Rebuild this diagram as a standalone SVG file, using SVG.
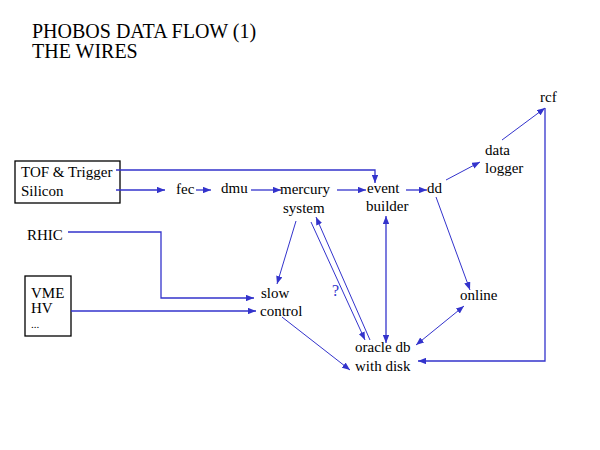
<svg xmlns="http://www.w3.org/2000/svg" width="600" height="450" viewBox="0 0 600 450" font-family="Liberation Serif, Times New Roman, serif">
<style>
text{font-size:15px;fill:#000}
.t{font-size:20px}
.c path,.c line,.c polyline{stroke:#3333cc;fill:none;stroke-width:1.3}
.box{fill:none;stroke:#000;stroke-width:1.3}
</style>
<defs>
<marker id="a" viewBox="0 0 10 8" refX="10" refY="4" markerWidth="8" markerHeight="6.5" markerUnits="userSpaceOnUse" orient="auto-start-reverse"><path d="M0,0L10,4L0,8z" fill="#3333cc"/></marker>
</defs>
<rect width="600" height="450" fill="#fff"/>
<g id="title">
<text class="t" x="32" y="38">PHOBOS DATA FLOW (1)</text>
<text class="t" x="32" y="58">THE WIRES</text>
</g>
<g id="tof"><rect class="box" x="15" y="161" width="105" height="42"/><text x="21" y="177">TOF &amp; Trigger</text><text x="21" y="196">Silicon</text></g>
<g id="fec"><text x="176" y="194">fec</text></g>
<g id="dmu"><text x="221" y="193">dmu</text></g>
<g id="mercury"><text x="280" y="194">mercury</text><text x="283" y="213">system</text></g>
<g id="event"><text x="367" y="193">event</text><text x="366" y="211">builder</text></g>
<g id="dd"><text x="427" y="193">dd</text></g>
<g id="logger"><text x="485" y="155">data</text><text x="485" y="173">logger</text></g>
<g id="rcf"><text x="540" y="102">rcf</text></g>
<g id="rhic"><text x="27" y="240">RHIC</text></g>
<g id="vme"><rect class="box" x="25" y="276" width="46" height="60"/><text x="31" y="298">VME</text><text x="31" y="313">HV</text><text x="31" y="328" style="font-size:11px">...</text></g>
<g id="slow"><text x="261" y="298">slow</text><text x="260" y="316">control</text></g>
<g id="online"><text x="460" y="300">online</text></g>
<g id="oracle"><text x="355" y="352">oracle db</text><text x="355" y="371">with disk</text></g>
<g id="q"><text x="332" y="296" style="fill:#3333cc;font-size:16px">?</text></g>
<g class="c" id="connectors">
<polyline points="116,170 375,170 375,183" marker-end="url(#a)"/>
<line x1="116" y1="190" x2="165" y2="190" marker-end="url(#a)"/>
<line x1="196" y1="190" x2="211" y2="190" marker-end="url(#a)"/>
<line x1="251" y1="190" x2="281" y2="190" marker-end="url(#a)"/>
<line x1="337" y1="190" x2="366" y2="190" marker-end="url(#a)"/>
<line x1="406" y1="190" x2="427" y2="190" marker-end="url(#a)"/>
<line x1="446" y1="180" x2="480" y2="162" marker-end="url(#a)" style="stroke-width:1"/>
<line x1="502" y1="140" x2="545" y2="108" marker-end="url(#a)" style="stroke-width:1"/>
<polyline points="545,108 545,361 418,361" marker-end="url(#a)"/>
<line x1="436" y1="197" x2="470" y2="290" marker-end="url(#a)" style="stroke-width:1"/>
<line x1="464" y1="306" x2="416" y2="345" marker-start="url(#a)" marker-end="url(#a)" style="stroke-width:1"/>
<line x1="386" y1="216" x2="386" y2="343" marker-start="url(#a)" marker-end="url(#a)"/>
<line x1="296" y1="221" x2="277" y2="284" marker-end="url(#a)" style="stroke-width:1"/>
<polyline points="68,232 161,232 161,298 254,298" marker-end="url(#a)"/>
<line x1="71" y1="311" x2="256" y2="311" marker-end="url(#a)"/>
<line x1="282" y1="317" x2="350" y2="370" marker-end="url(#a)" style="stroke-width:1"/>
<line x1="311" y1="222" x2="365" y2="340" marker-end="url(#a)" style="stroke-width:1"/>
<line x1="370" y1="340" x2="316" y2="217" marker-end="url(#a)" style="stroke-width:1"/>
</g>
</svg>
